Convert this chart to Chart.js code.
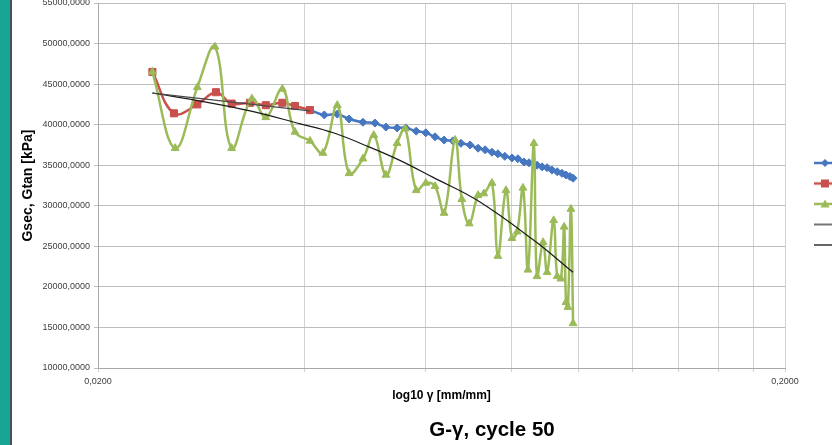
<!DOCTYPE html>
<html>
<head>
<meta charset="utf-8">
<script src="https://cdn.jsdelivr.net/npm/chart.js@4.4.1/dist/chart.umd.min.js"></script>
<style>
html, body { margin: 0; padding: 0; overflow: hidden; background: #fff; width: 832px; height: 445px; }
#wrap { position: absolute; left: 0; top: -10px; width: 984px; height: 455px; }
</style>
</head>
<body>
<div id="wrap"><canvas id="c" width="984" height="455"></canvas></div>
<script>
// ---- data ----
const seriesNames = [
  'Gsec - secant shear modulus, cycle 50',
  'Gsec - secant shear modulus, initial part',
  'Gtan - tangent shear modulus, cycle 50',
  'Poly. (Gtan - tangent shear modulus)',
  'Log. (Gsec - initial part)'
];

const strainGsec = [0.0407, 0.0427, 0.0446, 0.0464, 0.0486, 0.0506, 0.0525, 0.0545, 0.0561, 0.0581,
  0.0600, 0.0619, 0.0638, 0.0657, 0.0675, 0.0696, 0.0715, 0.0732, 0.0749, 0.0764,
  0.0782, 0.0801, 0.0817, 0.0834, 0.0848, 0.0871, 0.0886, 0.0901, 0.0916, 0.0932,
  0.0947, 0.0960, 0.0973, 0.0983];
const gsec = [41.8, 41.2, 41.3, 40.7, 40.3, 40.2, 39.7, 39.6, 39.6, 39.2,
  39.0, 38.5, 38.1, 38.0, 37.7, 37.5, 37.1, 36.9, 36.6, 36.4,
  36.1, 35.9, 35.8, 35.4, 35.3, 35.0, 34.8, 34.7, 34.4, 34.2,
  34.0, 33.8, 33.6, 33.4]; // millions of kPa

const strainGsecInit = [0.0240, 0.0258, 0.0279, 0.0297, 0.0313, 0.0333, 0.0351, 0.0371, 0.0387, 0.0407];
const gsecInit = [46.5, 41.4, 42.5, 44.0, 42.6, 42.7, 42.4, 42.7, 42.3, 41.8];

const strainGtan = [0.0240, 0.0259, 0.0279, 0.0296, 0.0313, 0.0335, 0.0351, 0.0371, 0.0387, 0.0407,
  0.0425, 0.0446, 0.0464, 0.0486, 0.0504, 0.0525, 0.0545, 0.0560, 0.0581, 0.0600,
  0.0619, 0.0638, 0.0662, 0.0677, 0.0694, 0.0715, 0.0729, 0.0749, 0.0764, 0.0785,
  0.0801, 0.0815, 0.0831, 0.0845, 0.0862, 0.0871, 0.0889, 0.0901, 0.0921, 0.0932,
  0.0944, 0.0954, 0.0960, 0.0966, 0.0976, 0.0983];
const gtan = [46.5, 37.1, 44.6, 49.6, 37.1, 43.2, 40.9, 44.4, 39.1, 38.0,
  36.5, 42.4, 34.0, 35.8, 38.7, 33.8, 37.7, 39.5, 31.9, 32.8,
  32.4, 29.1, 38.1, 30.8, 27.8, 31.3, 31.5, 32.8, 23.8, 31.9,
  26.0, 26.8, 32.2, 22.1, 37.7, 21.3, 25.5, 21.8, 28.2, 21.3,
  21.0, 27.4, 18.1, 17.5, 29.6, 15.5];

const strainPolyTrend = [0.0240, 0.0282, 0.0333, 0.0394, 0.0440, 0.0498, 0.0550, 0.0615, 0.0712, 0.0860, 0.0983];
const gPolyTrend = [43.9, 42.9, 41.7, 40.1, 39.0, 37.2, 35.6, 33.5, 30.7, 25.8, 21.8];

const strainLogTrend = [0.0240, 0.0407];
const gLogTrend = [43.9, 41.7];

const xTickValues = [0.02, 0.04, 0.06, 0.08, 0.10, 0.12, 0.14, 0.16, 0.18, 0.20];
const xTickLabels = ['0,0200', '', '', '', '', '', '', '', '', '0,2000'];
const yTickValues = [10000000, 15000000, 20000000, 25000000, 30000000, 35000000, 40000000, 45000000, 50000000, 55000000];
const yTickLabels = ['10000,0000', '15000,0000', '20000,0000', '25000,0000', '30000,0000',
  '35000,0000', '40000,0000', '45000,0000', '50000,0000', '55000,0000'];

// ---- styling ----
const FONT = "'Liberation Sans', Arial, sans-serif";
const BLUE = '#4677c0', RED = '#c8504d', GREEN = '#9bbb59', BLACK = '#1a1a1a', GRAY = '#4a4a4a';
const MIL = 1000000;

function pts(xs, ys) { return xs.map((x, i) => ({ x: x, y: ys[i] * MIL })); }

function legendIcon(color, lineW, marker) {
  const cv = document.createElement('canvas');
  cv.width = 22; cv.height = 12;
  const c = cv.getContext('2d');
  c.strokeStyle = color; c.lineWidth = lineW;
  c.beginPath(); c.moveTo(0, 6); c.lineTo(22, 6); c.stroke();
  c.fillStyle = color;
  if (marker === 'diamond') {
    c.beginPath(); c.moveTo(11, 2); c.lineTo(15, 6); c.lineTo(11, 10); c.lineTo(7, 6); c.closePath(); c.fill();
  } else if (marker === 'square') {
    c.fillRect(7, 2, 8, 8);
  } else if (marker === 'triangle') {
    c.beginPath(); c.moveTo(11, 1.5); c.lineTo(15.5, 9.5); c.lineTo(6.5, 9.5); c.closePath(); c.fill();
  }
  return cv;
}
const legendIcons = [
  legendIcon(BLUE, 2.5, 'diamond'),
  legendIcon(RED, 2.5, 'square'),
  legendIcon(GREEN, 2.5, 'triangle'),
  legendIcon(BLACK, 1.2, null),
  legendIcon('#666', 2, null)
];

const framePlugin = {
  id: 'frame',
  beforeDraw(chart) {
    const ctx = chart.ctx;
    ctx.save();
    ctx.fillStyle = '#ffffff';
    ctx.fillRect(0, 0, chart.width, chart.height);
    ctx.fillStyle = '#17a596';
    ctx.fillRect(0, 0, 10, chart.height);
    ctx.fillStyle = '#4e4e4e';
    ctx.fillRect(10, 0, 2, chart.height);
    ctx.restore();
  }
};

new Chart(document.getElementById('c'), {
  type: 'line',
  data: {
    datasets: [
      { label: seriesNames[0], data: pts(strainGsec, gsec), borderColor: BLUE, backgroundColor: BLUE,
        borderWidth: 2.5, pointStyle: 'rectRot', pointRadius: 4, pointBorderWidth: 1, tension: 0.4, order: 5 },
      { label: seriesNames[1], data: pts(strainGsecInit, gsecInit), borderColor: RED, backgroundColor: RED,
        borderWidth: 2.5, pointStyle: 'rect', pointRadius: 5, pointBorderWidth: 1, tension: 0.4, order: 4 },
      { label: seriesNames[2], data: pts(strainGtan, gtan), borderColor: GREEN, backgroundColor: GREEN,
        borderWidth: 2.5, pointStyle: 'triangle', pointRadius: 4.5, pointBorderWidth: 1, tension: 0.4, order: 3 },
      { label: seriesNames[3], data: pts(strainPolyTrend, gPolyTrend), borderColor: BLACK,
        borderWidth: 1.2, pointRadius: 0, tension: 0.4, order: 2 },
      { label: seriesNames[4], data: pts(strainLogTrend, gLogTrend), borderColor: GRAY,
        borderWidth: 1.2, pointRadius: 0, tension: 0, order: 1 }
    ]
  },
  options: {
    responsive: false,
    animation: false,
    layout: { padding: { left: 0, right: 0, top: 13, bottom: 0 } },
    scales: {
      x: {
        type: 'logarithmic',
        min: 0.02, max: 0.2,
        afterBuildTicks: s => { s.ticks = xTickValues.map(v => ({ value: v })); },
        afterFit: s => { s.height = 50; },
        ticks: {
          autoSkip: false, maxRotation: 0, minRotation: 0, padding: 4,
          color: '#404040', font: { family: FONT, size: 9 },
          callback: (v, i) => xTickLabels[i]
        },
        grid: { color: '#d2d2d2', lineWidth: 1, tickLength: 4 },
        border: { color: '#a8a8a8', width: 1 },
        title: { display: true, text: 'log10 γ [mm/mm]', color: '#000',
          font: { family: FONT, size: 12, weight: 'bold', lineHeight: 1.2 }, padding: { top: 0, bottom: 15 } }
      },
      y: {
        type: 'linear',
        min: 10000000, max: 55000000,
        afterBuildTicks: s => { s.ticks = yTickValues.map(v => ({ value: v })); },
        afterFit: s => { s.width = 98; },
        ticks: {
          padding: 4, color: '#404040', font: { family: FONT, size: 9 },
          callback: (v, i) => yTickLabels[i]
        },
        grid: { color: '#bdbdbd', lineWidth: 1, tickLength: 4 },
        border: { color: '#a8a8a8', width: 1 },
        title: { display: true, text: 'Gsec, Gtan [kPa]', color: '#000',
          font: { family: FONT, size: 14, weight: 'bold', lineHeight: 1.2 }, padding: { top: 19.5, bottom: 0 } }
      }
    },
    plugins: {
      tooltip: { enabled: false },
      title: {
        display: true, text: 'G-γ, cycle 50', position: 'bottom', color: '#000',
        font: { family: FONT, size: 20.5, weight: 'bold', lineHeight: 1.2 },
        padding: { top: 0, bottom: 2.4 }
      },
      legend: {
        display: true, position: 'right', align: 'center', fullSize: false, maxWidth: 199,
        title: { display: true, text: '', font: { family: FONT, size: 10, lineHeight: 1.2 }, padding: { top: 25, bottom: 0 } },
        labels: {
          usePointStyle: true, pointStyleWidth: 59, padding: 10.5,
          color: '#000', font: { family: FONT, size: 10 },
          generateLabels: () => seriesNames.map((name, i) => ({
            text: name, pointStyle: legendIcons[i], fillStyle: 'rgba(0,0,0,0)',
            strokeStyle: 'rgba(0,0,0,0)', lineWidth: 0, hidden: false, datasetIndex: i, fontColor: '#000'
          }))
        }
      }
    }
  },
  plugins: [framePlugin]
});
</script>
</body>
</html>
